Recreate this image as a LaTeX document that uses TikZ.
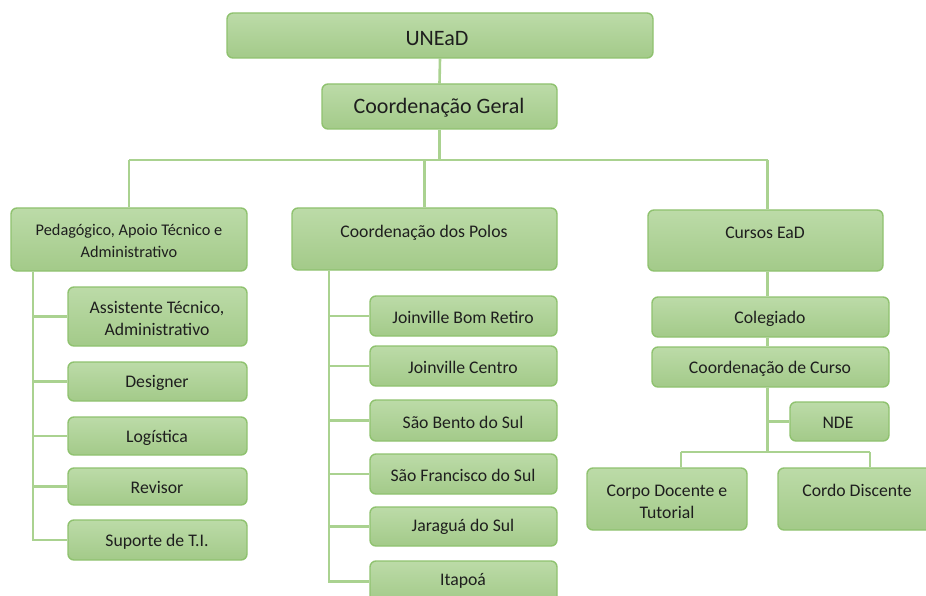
\documentclass[tikz,border=0pt]{standalone}
\usepackage{fontspec}
\setmainfont{Carlito}
\usetikzlibrary{backgrounds}
\definecolor{boxtop}{HTML}{BCDBA8}
\definecolor{boxbot}{HTML}{A3CA89}
\definecolor{boxborder}{HTML}{8FC26F}
\definecolor{linecol}{HTML}{AAD290}
\definecolor{txt}{HTML}{1E1E1E}
\newcommand\mkbox[5]{\node[box,minimum width={(#4)-(#2)},minimum height={(#5)-(#3)}] (#1) at ({((#2)+(#4))/2},{((#3)+(#5))/2}) {};}
\begin{document}
\begin{tikzpicture}[x=1pt,y=-1pt,
  box/.style={draw=boxborder,line width=1.4pt,rounded corners=6pt,top color=boxtop,bottom color=boxbot,inner sep=0pt},
  conn/.style={draw=linecol,line width=2.6pt},
  lbl/.style={text=txt,align=center,inner sep=0pt,yshift=-1.5pt,font=\fontsize{17.7}{22}\selectfont},
  big/.style={lbl,font=\fontsize{22}{24}\selectfont},
  sml/.style={lbl,font=\fontsize{16.3}{22}\selectfont}]
\useasboundingbox (0,0) rectangle (926,596);
% named coordinates
\coordinate (hbar) at (0,160);
\coordinate (lv) at (33,0);
\coordinate (mv) at (329,0);
\coordinate (rv) at (767.5,0);
\coordinate (hb2) at (0,452);
\coordinate (p1) at (681,452);
\coordinate (p2) at (870,452);
% boxes
\mkbox{uned}{227}{13}{653}{58}
\mkbox{cg}{322}{84}{557}{129}
\mkbox{ped}{11}{208}{247}{271}
\mkbox{pol}{292}{208}{557}{270}
\mkbox{cur}{648}{210}{883}{271}
\mkbox{ast}{68}{287}{247}{346}
\mkbox{des}{68}{362}{247}{401}
\mkbox{log}{68}{417}{247}{455}
\mkbox{rev}{68}{468}{247}{505}
\mkbox{sup}{68}{520}{247}{560}
\mkbox{jbr}{370}{296}{557}{336}
\mkbox{jce}{370}{346}{557}{386}
\mkbox{sbs}{370}{400}{557}{441}
\mkbox{sfs}{370}{454}{557}{494}
\mkbox{jar}{370}{507}{557}{546}
\mkbox{ita}{370}{561}{557}{602}
\mkbox{col}{652}{297}{889}{337}
\mkbox{cdc}{652}{347}{889}{387}
\mkbox{nde}{790}{402}{889}{441}
\mkbox{cdoc}{587}{468}{747}{530}
\mkbox{cdis}{778}{468}{940}{530}
% connectors
\begin{scope}[on background layer]
\draw[conn] (uned.south) -- (cg.north);
\draw[conn] (cg.south) -- (cg.south |- hbar);
\draw[conn] (ped.north |- hbar) -- (rv |- hbar);
\draw[conn] (ped.north |- hbar) -- (ped.north);
\draw[conn] (pol.north |- hbar) -- (pol.north);
\draw[conn] (rv |- hbar) -- (rv |- cur.north);
\draw[conn] (lv |- ped.south) -- (lv |- sup.west) -- (sup.west);
\foreach \c in {ast,des,log,rev} \draw[conn] (lv |- \c.west) -- (\c.west);
\draw[conn] (mv |- pol.south) -- (mv |- ita.west) -- (ita.west);
\foreach \c in {jbr,jce,sbs,sfs,jar} \draw[conn] (mv |- \c.west) -- (\c.west);
\draw[conn] (rv |- cur.south) -- (rv |- col.north);
\draw[conn] (rv |- col.south) -- (rv |- cdc.north);
\draw[conn] (rv |- cdc.south) -- (rv |- hb2);
\draw[conn] (rv |- nde.west) -- (nde.west);
\draw[conn] (p1) -- (p2);
\draw[conn] (p1) -- (p1 |- cdoc.north);
\draw[conn] (p2) -- (p2 |- cdis.north);
\end{scope}
% labels
\node[big] (tuned) at (437,37) {UNEaD};
\node[big] (tcg) at (439,106) {Coordenação Geral};
\node[sml] (tped) at (129,239) {Pedagógico, Apoio Técnico e\\Administrativo};
\node[lbl] (tpol) at (424,231) {Coordenação dos Polos};
\node[lbl] (tcur) at (765,231) {Cursos EaD};
\node[lbl] (tast) at (157,317) {Assistente Técnico,\\Administrativo};
\node[lbl] (tdes) at (157,381) {Designer};
\node[lbl] (tlog) at (157,436) {Logística};
\node[lbl] (trev) at (157,486) {Revisor};
\node[lbl] (tsup) at (157,540) {Suporte de T.I.};
\node[lbl] (tjbr) at (463,316) {Joinville Bom Retiro};
\node[lbl] (tjce) at (463,366) {Joinville Centro};
\node[lbl] (tsbs) at (463,421) {São Bento do Sul};
\node[lbl] (tsfs) at (463,474) {São Francisco do Sul};
\node[lbl] (tjar) at (463,525) {Jaraguá do Sul};
\node[lbl] (tita) at (463,579) {Itapoá};
\node[lbl] (tcol) at (770,317) {Colegiado};
\node[lbl] (tcdc) at (770,367) {Coordenação de Curso};
\node[lbl] (tnde) at (838,421) {NDE};
\node[lbl] (tcdoc) at (667,500) {Corpo Docente e\\Tutorial};
\node[lbl] (tcdis) at (857,489) {Cordo Discente};
\end{tikzpicture}
\end{document}
